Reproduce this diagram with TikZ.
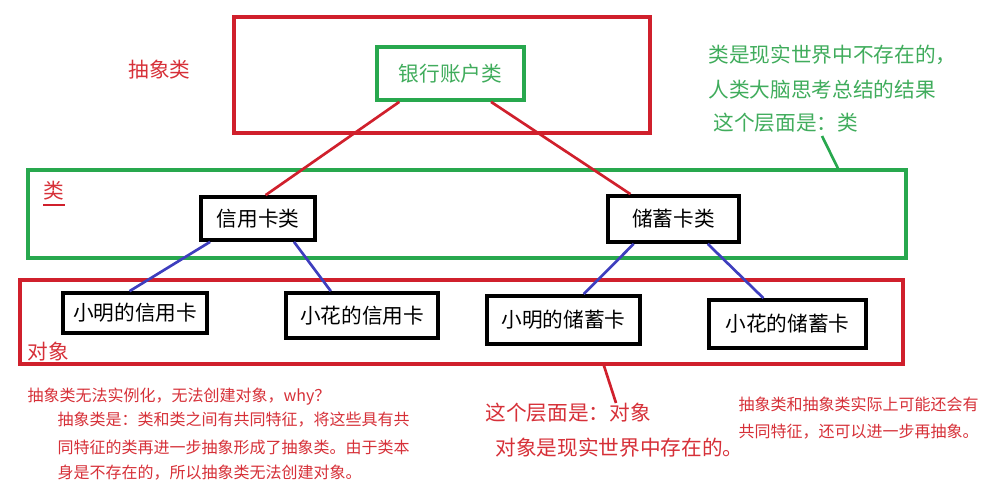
\documentclass[tikz,border=0pt]{standalone}
\usepackage{fontspec}
\setmainfont{Noto Sans CJK SC}
\usepackage{tikz}
\usetikzlibrary{positioning}
\definecolor{boxred}{RGB}{208,32,44}
\definecolor{textred}{RGB}{214,48,56}
\definecolor{boxgreen}{RGB}{40,168,78}
\definecolor{textgreen}{RGB}{64,172,92}
\definecolor{linkblue}{RGB}{62,62,190}

\begin{document}
\begin{tikzpicture}[x=0.75pt,y=-0.75pt,thick,
	layer box/.style={draw,line width=2.3pt,inner sep=0pt},
	class node/.style={draw=black,line width=2.8pt,inner sep=0pt,font=\fontsize{15.5}{18}\selectfont},
	note/.style={anchor=west,inner sep=0pt,font=\fontsize{15.5}{18}\selectfont},
	small note/.style={anchor=west,inner sep=0pt,font=\fontsize{12}{14}\selectfont,text=textred},
	link/.style={line width=2pt}]
	\useasboundingbox (0,0) rectangle (1003,488);
	% layers
	\node[layer box,draw=boxred,minimum width=312pt,minimum height=87pt] (abs) at (442,75) {};
	\node[layer box,draw=boxgreen,minimum width=658.5pt,minimum height=66pt] (cls) at (467,214) {};
	\node[layer box,draw=boxred,minimum width=662.25pt,minimum height=63pt] (obj) at (461.5,322) {};
	% classes
	\node[class node,draw=boxgreen,text=textgreen,minimum width=110.25pt,minimum height=39.75pt] (bank) at (450.5,73.5) {银行账户类};
	\node[class node,minimum width=85.5pt,minimum height=32.25pt] (xyk) at (258,218.5) {信用卡类};
	\node[class node,minimum width=98.25pt,minimum height=34.5pt] (cxk) at (673.5,219) {储蓄卡类};
	% objects
	\node[class node,minimum width=108pt,minimum height=30pt] (xm1) at (135,313) {小明的信用卡};
	\node[class node,minimum width=114pt,minimum height=33.75pt] (xh1) at (362,315.5) {小花的信用卡};
	\node[class node,minimum width=114.75pt,minimum height=36pt] (xm2) at (563.5,320) {小明的储蓄卡};
	\node[class node,minimum width=117.75pt,minimum height=36pt] (xh2) at (787.5,324) {小花的储蓄卡};
	\path[link,draw=boxred]
	(bank.-151) edge (xyk.72)
	(bank.-35) edge (cxk.150);
	\path[link,draw=linkblue]
	(xyk.-154) edge (xm1.104)
	(xyk.-33) edge (xh1.142)
	(cxk.-148) edge (xm2.52)
	(cxk.-36) edge (xh2.133);
	% layer labels
	\node[note,text=textred] (abslbl) at (128,70) {抽象类};
	\node[note,text=textred] (clslbl) at (43,191) {类};
	\draw[boxred,line width=0.8pt] ([yshift=-3pt]clslbl.south west) -- ([yshift=-3pt]clslbl.south east);
	\node[note,text=textred] (objlbl) at (27,352) {对象};
	% notes
	\node[note,text=textgreen] (g1) at (708,55) {类是现实世界中不存在的，};
	\node[note,text=textgreen] (g2) at (708,90) {人类大脑思考总结的结果};
	\node[note,text=textgreen] (g3) at (713,123) {这个层面是：类};
	\coordinate (gtip) at (822,136);
	\draw[link,boxgreen] (cls.7.6) -- (gtip);
	\node[note,text=textred] (r1) at (485,413) {这个层面是：对象};
	\node[note,text=textred] (r2) at (495,448) {对象是现实世界中存在的。};
	\coordinate (rtip) at (616,403);
	\draw[link,boxred] (obj.-17) -- (rtip);
	\node[small note] (q1) at (27,397) {抽象类无法实例化，无法创建对象，why？};
	\node[small note] (q2) at (57,420) {抽象类是：类和类之间有共同特征，将这些具有共};
	\node[small note] (q3) at (57,447) {同特征的类再进一步抽象形成了抽象类。由于类本};
	\node[small note] (q4) at (57,473) {身是不存在的，所以抽象类无法创建对象。};
	\node[small note] (s1) at (738,404) {抽象类和抽象类实际上可能还会有};
	\node[small note] (s2) at (738,432) {共同特征，还可以进一步再抽象。};
\end{tikzpicture}
\end{document}
